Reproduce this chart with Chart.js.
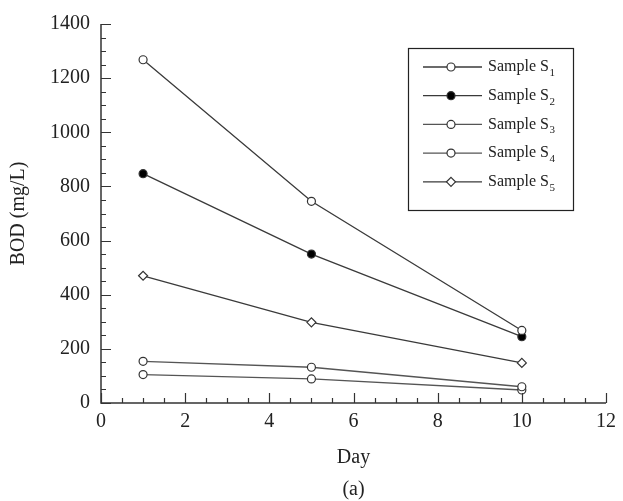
<!DOCTYPE html>
<html><head><meta charset="utf-8">
<script src="https://cdn.jsdelivr.net/npm/chart.js@4/dist/chart.umd.min.js"></script>
<style>html,body{margin:0;padding:0;background:#fff}#wrap{width:623px;height:501px}</style>
</head><body><div id="wrap"><canvas id="c" width="623" height="501"></canvas></div>
<script>
const days = [1, 5, 10];
const s1 = [1268, 745, 268];
const s2 = [847, 550, 245];
const s3 = [154, 132, 60];
const s4 = [105, 89, 48];
const s5 = [470, 298, 148];
const xTicks = [0, 2, 4, 6, 8, 10, 12];
const yTicks = [0, 200, 400, 600, 800, 1000, 1200, 1400];

const FONT = '"Liberation Serif", "Times New Roman", serif';
const LINE = '#3a3a3a';
function mk(label, vals, style, fill, color) {
  return {
    label: label,
    data: vals.map((v, i) => ({x: days[i], y: v})),
    borderColor: color, borderWidth: 1.3,
    pointStyle: style, pointRadius: style === 'rectRot' ? 4.5 : 4,
    pointBackgroundColor: fill, pointBorderColor: '#333', pointBorderWidth: 1.2,
    tension: 0, clip: false
  };
}
const datasets = [
  mk('1', s1, 'circle', '#fff', LINE),
  mk('2', s2, 'circle', '#000', LINE),
  mk('3', s3, 'circle', '#fff', '#555'),
  mk('4', s4, 'circle', '#fff', '#555'),
  mk('5', s5, 'rectRot', '#fff', LINE)
];

const decor = {
  id: 'decor',
  afterDraw(chart) {
    const ctx = chart.ctx, ca = chart.chartArea;
    const xs = chart.scales.x, ys = chart.scales.y;
    ctx.save();
    ctx.strokeStyle = '#333'; ctx.lineWidth = 1.5;
    ctx.beginPath();
    ctx.moveTo(ca.left, ca.top); ctx.lineTo(ca.left, ca.bottom); ctx.lineTo(ca.right, ca.bottom);
    ctx.stroke();
    ctx.lineWidth = 1.2;
    ctx.beginPath();
    for (let v = 0; v <= 1400; v += 50) {
      const y = Math.round(ys.getPixelForValue(v)) + 0.5;
      const len = v % 200 === 0 ? 10 : 5;
      ctx.moveTo(ca.left, y); ctx.lineTo(ca.left + len, y);
    }
    for (let v = 0; v <= 12; v += 0.5) {
      const x = Math.round(xs.getPixelForValue(v)) + 0.5;
      const len = v % 2 === 0 ? 10 : 5;
      ctx.moveTo(x, ca.bottom); ctx.lineTo(x, ca.bottom - len);
    }
    ctx.stroke();
    // legend box
    const bx = 408, by = 48, bw = 165, bh = 162;
    ctx.fillStyle = '#fff';
    ctx.fillRect(bx, by, bw, bh);
    ctx.strokeStyle = '#222'; ctx.lineWidth = 1.2;
    ctx.strokeRect(bx + 0.5, by + 0.5, bw, bh);
    chart.data.datasets.forEach((ds, i) => {
      const y = 67 + i * 28.7;
      ctx.strokeStyle = ds.borderColor; ctx.lineWidth = 1.3;
      ctx.beginPath(); ctx.moveTo(423, y); ctx.lineTo(482, y); ctx.stroke();
      ctx.fillStyle = ds.pointBackgroundColor; ctx.strokeStyle = ds.pointBorderColor; ctx.lineWidth = 1.2;
      ctx.beginPath();
      if (ds.pointStyle === 'rectRot') {
        const r = 4.5;
        ctx.moveTo(451, y - r); ctx.lineTo(451 + r, y); ctx.lineTo(451, y + r); ctx.lineTo(451 - r, y); ctx.closePath();
      } else {
        ctx.arc(451, y, 4, 0, Math.PI * 2);
      }
      ctx.fill(); ctx.stroke();
      ctx.fillStyle = '#222';
      ctx.textBaseline = 'middle'; ctx.textAlign = 'left';
      ctx.font = '16px ' + FONT;
      const t = 'Sample S';
      ctx.fillText(t, 488, y);
      const w = ctx.measureText(t).width;
      ctx.font = '11px ' + FONT;
      ctx.fillText(ds.label, 488 + w + 0.5, y + 6);
    });
    ctx.restore();
  }
};

new Chart(document.getElementById('c'), {
  type: 'line',
  data: {datasets: datasets},
  plugins: [decor],
  options: {
    responsive: false, animation: false,
    layout: {padding: {left: 0, right: 9, top: 24, bottom: 0}},
    plugins: {legend: {display: false}, tooltip: {enabled: false}},
    scales: {
      x: {
        type: 'linear', min: 0, max: 12,
        afterFit: s => { s.height = 98; },
        afterBuildTicks: s => { s.ticks = xTicks.map(v => ({value: v})); },
        grid: {display: false, drawTicks: false},
        border: {display: false},
        ticks: {color: '#222', font: {family: FONT, size: 20}, padding: 7, maxRotation: 0,
          callback: v => String(v)},
        title: {display: true, text: ['Day', '(a)'], color: '#222',
          font: {family: FONT, size: 20, lineHeight: 1.6}, padding: {top: 0, bottom: -5}}
      },
      y: {
        type: 'linear', min: 0, max: 1400,
        afterFit: s => { s.width = 101; },
        afterBuildTicks: s => { s.ticks = yTicks.map(v => ({value: v})); },
        grid: {display: false, drawTicks: false},
        border: {display: false},
        ticks: {color: '#222', font: {family: FONT, size: 20}, padding: 11,
          callback: v => String(v)},
        title: {display: true, text: 'BOD (mg/L)', color: '#222',
          font: {family: FONT, size: 20, lineHeight: 1.2}, padding: {top: 7, bottom: 0}}
      }
    }
  }
});
</script></body></html>
